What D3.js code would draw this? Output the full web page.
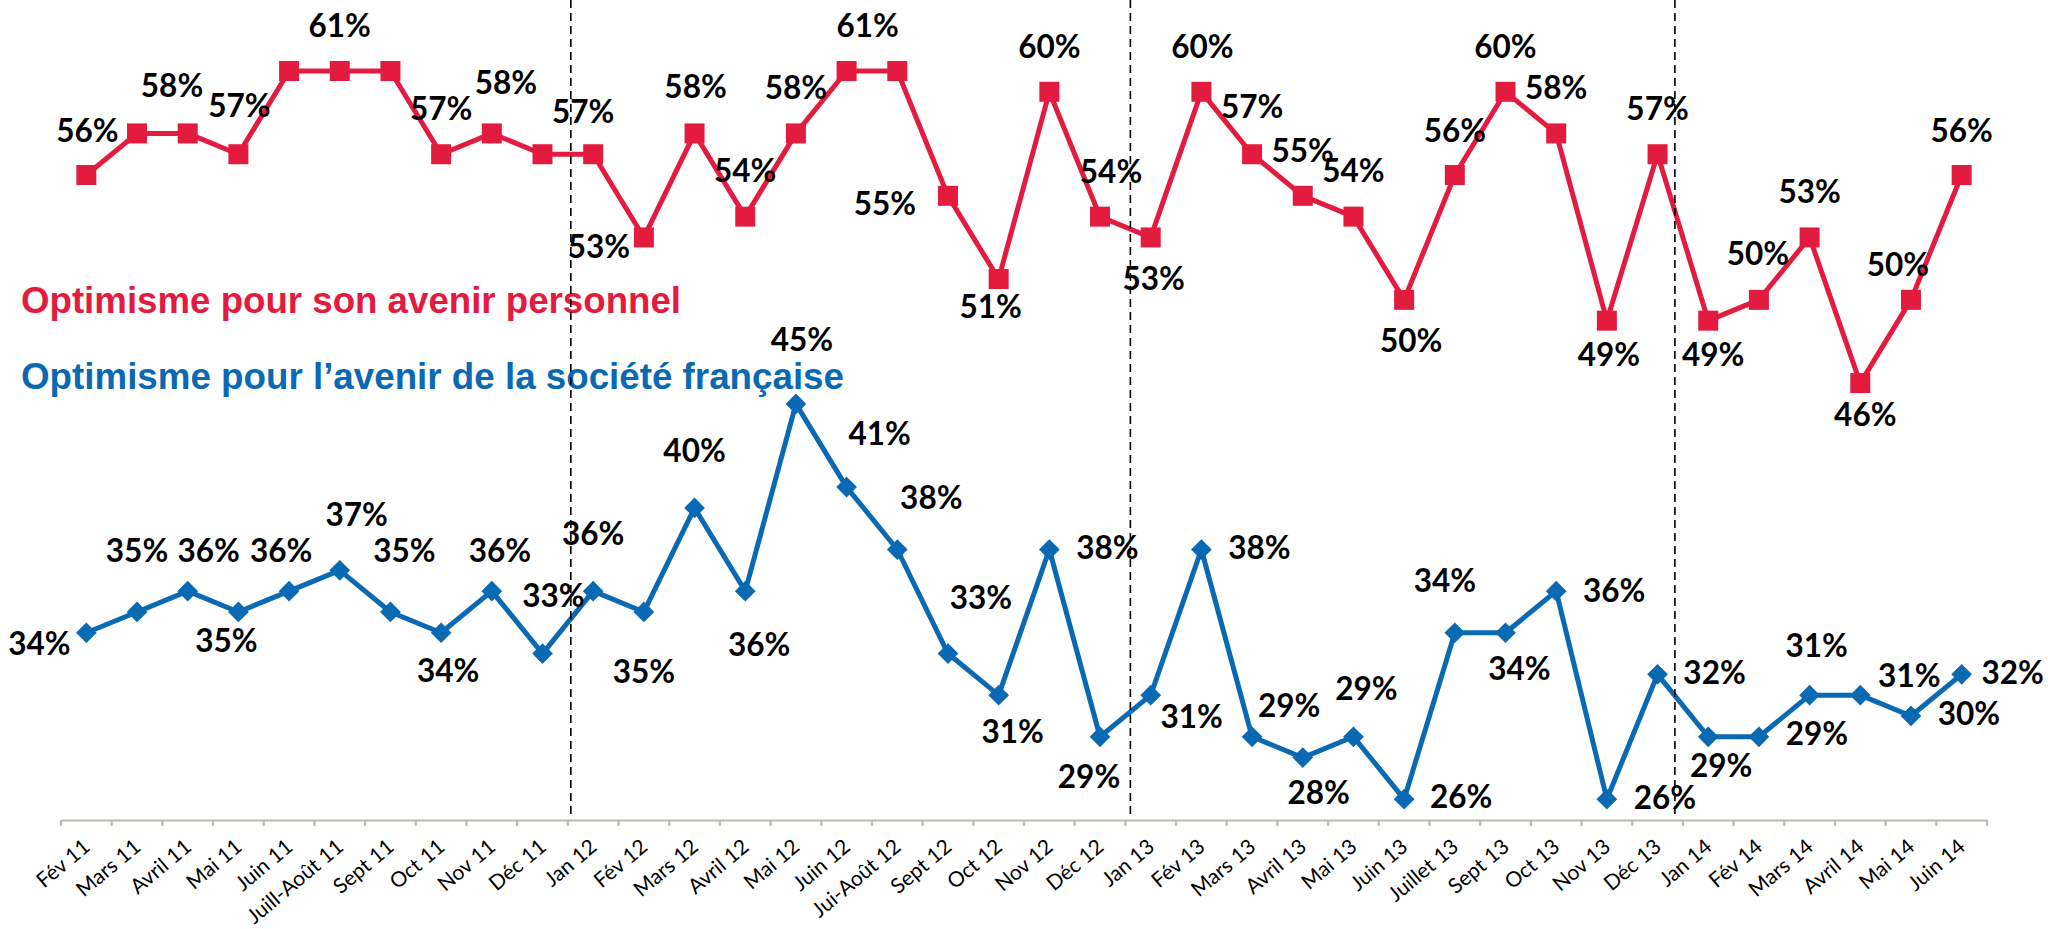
<!DOCTYPE html>
<html><head><meta charset="utf-8">
<script src="https://cdn.jsdelivr.net/npm/d3@7"></script>
<style>body{margin:0;background:#fff} svg{display:block}</style>
</head><body>
<svg id="chart" width="2048" height="929"></svg>
<script>
// ---------- data ----------
const categories = ["Fév 11","Mars 11","Avril 11","Mai 11","Juin 11","Juill-Août 11","Sept 11","Oct 11","Nov 11","Déc 11",
  "Jan 12","Fév 12","Mars 12","Avril 12","Mai 12","Juin 12","Jui-Août 12","Sept 12","Oct 12","Nov 12","Déc 12",
  "Jan 13","Fév 13","Mars 13","Avril 13","Mai 13","Juin 13","Juillet 13","Sept 13","Oct 13","Nov 13","Déc 13",
  "Jan 14","Fév 14","Mars 14","Avril 14","Mai 14","Juin 14"];
const personnel = [56,58,58,57,61,61,61,57,58,57, 57,53,58,54,58,61,61,55,51,60,54, 53,60,57,55,54,50,56,60,58,49,57, 49,50,53,46,50,56];
const societe   = [34,35,36,35,36,37,35,34,36,33, 36,35,40,36,45,41,38,33,31,38,29, 31,38,29,28,29,26,34,34,36,26,32, 29,29,31,31,30,32];
const seriesNames = ["Optimisme pour son avenir personnel", "Optimisme pour l’avenir de la société française"];
const yearBreaks = ["Jan 12","Jan 13","Jan 14"];

// ---------- layout (label placement, not data) ----------
const personnelLabelOffsets = [[1,-33],[35,-36],null,[1,-37],null,[0,-34],null,[0,-34],[14,-39],null,
  [-10,-31],[-45,21],[1,-35],[0,-35],[0,-34],[21,-34],null,[-63,19],[-8,39],[0,-34],[11,-34],
  [3,53],[1,-34],[0,-36],[0,-34],[0,-35],[7,52],[0,-33],[0,-34],[0,-34],[2,45],[0,-34],
  [5,45],[-1,-35],[0,-34],[5,43],[-13,-24],[0,-33]];
const societeLabelOffsets = [[-47,22],[0,-50],[21,-29],[-12,40],[-8,-29],[17,-44],[14,-50],[7,49],[8,-29],[11,-47],
  [0,-46],[0,71],[0,-46],[14,65],[6,-53],[33,-42],[34,-41],[33,-45],[14,48],[58,9],[-11,51],
  [41,33],[58,9],[37,-20],[16,46],[13,-37],[57,9],[-10,-41],[14,47],[58,11],[58,10],[57,10],
  [13,40],[58,8],[7,-38],[49,-8],[58,9],[51,10]];
const breakOffsets = [3,5,-8];

const RED = "#E31C3F", BLUE = "#0A69B3", AXIS = "#BEB8AF";

const svg = d3.select("#chart");
svg.append("rect").attr("width",2048).attr("height",929).attr("fill","#fff");

const x = d3.scaleBand().domain(categories).range([61, 1987]).padding(0);
const y = d3.scaleLinear().domain([25, 61]).range([820, 71]);
const cx = c => x(c) + x.bandwidth()/2;

// ---------- axis ----------
const axisG = svg.append("g").attr("transform", `translate(0,${y(25)})`)
  .call(d3.axisBottom(x).tickSizeInner(0).tickSizeOuter(0));
axisG.select(".domain").attr("stroke", AXIS).attr("stroke-width", 2.2);
axisG.selectAll(".tick text")
  .attr("x", 0).attr("y", 0).attr("dy", 0)
  .attr("transform", "translate(5,29) rotate(-40)")
  .style("text-anchor", "end")
  .attr("font-family", "Lato, 'Open Sans', sans-serif")
  .attr("font-size", 21)
  .attr("fill", "#000");
const bounds = categories.map(c => x(c)).concat([x.range()[1]]);
axisG.selectAll(".bt").data(bounds).enter().append("line")
  .attr("x1", d => d).attr("x2", d => d).attr("y1", 0).attr("y2", 6)
  .attr("stroke", AXIS).attr("stroke-width", 2.2);

// ---------- series ----------
const line = d3.line().x((d,i) => cx(categories[i])).y(d => y(d));

svg.append("path").datum(personnel).attr("d", line)
  .attr("fill","none").attr("stroke", RED).attr("stroke-width", 5).attr("stroke-linejoin","round");
svg.append("path").datum(societe).attr("d", line)
  .attr("fill","none").attr("stroke", BLUE).attr("stroke-width", 5).attr("stroke-linejoin","round");

svg.append("g").selectAll("rect").data(personnel).enter().append("rect")
  .attr("x", (d,i) => cx(categories[i]) - 10).attr("y", d => y(d) - 10)
  .attr("width", 20).attr("height", 20).attr("fill", RED);

const diamond = d3.symbol().type(d3.symbolSquare).size(215);
svg.append("g").selectAll("path").data(societe).enter().append("path")
  .attr("d", diamond)
  .attr("transform", (d,i) => `translate(${cx(categories[i])},${y(d)}) rotate(45)`)
  .attr("fill", BLUE);

// ---------- data labels ----------
function labels(values, offsets) {
  svg.append("g").selectAll("text")
    .data(values.map((v,i) => ({v, i, o: offsets[i]})).filter(d => d.o))
    .enter().append("text")
    .attr("x", d => cx(categories[d.i]) + d.o[0])
    .attr("y", d => y(d.v) + d.o[1])
    .attr("text-anchor", "middle")
    .attr("font-family", "Lato, 'Liberation Sans', sans-serif")
    .attr("font-weight", 700)
    .attr("font-size", 31.5)
    .attr("fill", "#000")
    .text(d => d.v + "%");
}
labels(personnel, personnelLabelOffsets);
labels(societe, societeLabelOffsets);

// ---------- series titles ----------
svg.append("text").attr("x", 21).attr("y", 313)
  .attr("font-family","'Liberation Sans', Arial, sans-serif").attr("font-weight",700)
  .attr("font-size",36.5).attr("fill",RED)
  .attr("textLength",660).attr("lengthAdjust","spacingAndGlyphs")
  .text(seriesNames[0]);
svg.append("text").attr("x", 21).attr("y", 389)
  .attr("font-family","'Liberation Sans', Arial, sans-serif").attr("font-weight",700)
  .attr("font-size",36.5).attr("fill",BLUE)
  .attr("textLength",823).attr("lengthAdjust","spacingAndGlyphs")
  .text(seriesNames[1]);

// ---------- year separators ----------
svg.append("g").selectAll("line").data(yearBreaks).enter().append("line")
  .attr("x1", (d,i) => x(d) + breakOffsets[i]).attr("x2", (d,i) => x(d) + breakOffsets[i])
  .attr("y1", 0).attr("y2", y(25) - 5)
  .attr("stroke", "#000").attr("stroke-width", 1.6).attr("stroke-dasharray", "8,5");
</script>
</body></html>
